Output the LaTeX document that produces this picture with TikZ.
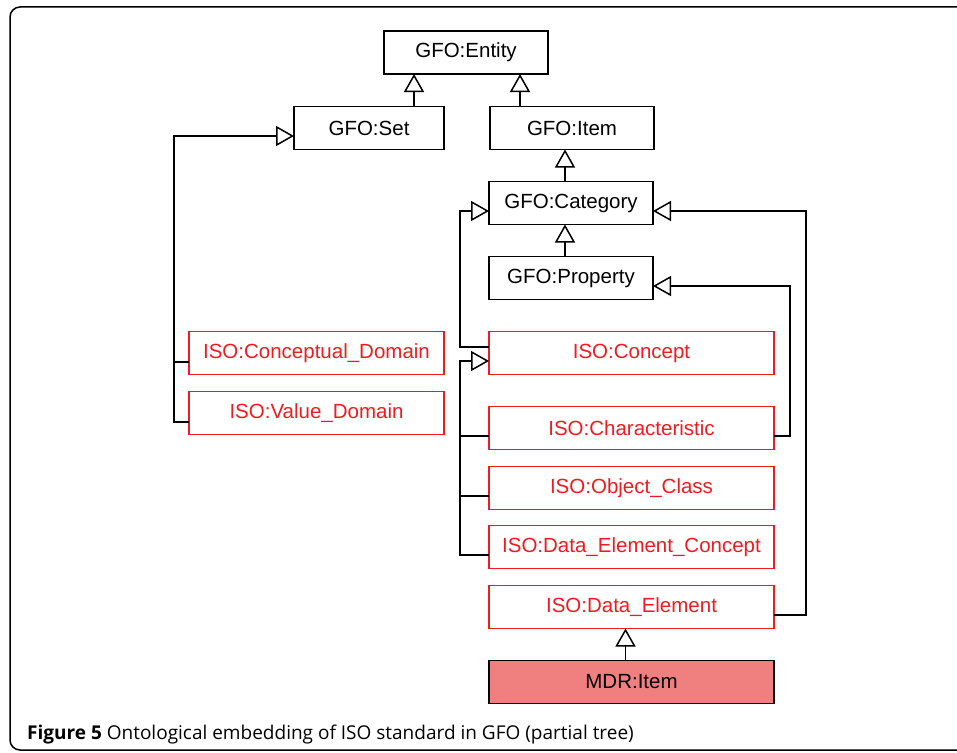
\documentclass[tikz,border=0pt]{standalone}
\usepackage{fontspec}
\setmainfont{Liberation Sans}
\newfontfamily\capfont{Open Sans}
\usepackage{xcolor}
\usetikzlibrary{arrows.meta, positioning}

\definecolor{isored}{RGB}{238,28,32}
\definecolor{mdrfill}{RGB}{240,128,128}

\tikzset{
    gfobox/.style={rectangle, draw, line width=1.5pt, minimum width=164pt, minimum height=43pt, inner sep=0pt, outer sep=0pt, font=\fontsize{20.5}{24}\selectfont},
    isobox/.style={gfobox, draw=isored, text=isored, minimum width=285pt},
    gen/.style={line width=1.5pt, -{Triangle[open, length=18pt, width=20pt]}},
    link/.style={line width=1.5pt}
}

\begin{document}
\begin{tikzpicture}[x=1pt, y=1pt]
    \clip (0,0) rectangle (957,-752);
    \draw[line width=1.5pt, rounded corners=10pt] (10,-7) rectangle (990,-750);

    % GFO part
    \node[gfobox] (entity) at (466,-52.5) {GFO:Entity};
    \node[gfobox, minimum width=150pt] (set) at (369,-128) {GFO:Set};
    \node[gfobox] (item) at (572,-128) {GFO:Item};
    \node[gfobox, below=32pt of item.south west, anchor=north west, xshift=-1pt] (category) {GFO:Category};
    \node[gfobox, below=32pt of category] (property) {GFO:Property};

    % ISO part
    \node[isobox, below=32pt of property.south west, anchor=north west] (concept) {ISO:Concept};
    \node[isobox, below=32pt of concept] (charac) {ISO:Characteristic};
    \node[isobox, below=17pt of charac] (objclass) {ISO:Object\_Class};
    \node[isobox, below=16pt of objclass] (dec) {ISO:Data\_Element\_Concept};
    \node[isobox, below=17pt of dec] (dataelem) {ISO:Data\_Element};
    \node[gfobox, minimum width=285pt, fill=mdrfill, below=32pt of dataelem] (mdr) {MDR:Item};
    \node[isobox, minimum width=255pt, left=45pt of concept] (concdom) {ISO:Conceptual\_Domain};
    \node[isobox, minimum width=255pt, below=17pt of concdom] (valdom) {ISO:Value\_Domain};

    % generalisations
    \draw[gen] ([xshift=45pt]set.north) -- ([xshift=45pt]set.north |- entity.south);
    \draw[gen] ([xshift=-52pt]item.north) -- ([xshift=-52pt]item.north |- entity.south);
    \draw[gen] ([xshift=-6pt]category.north) -- ([xshift=-6pt]category.north |- item.south);
    \draw[gen] ([xshift=-6pt]property.north) -- ([xshift=-6pt]property.north |- category.south);
    \draw[gen] ([xshift=-6pt]mdr.north) -- ([xshift=-6pt]mdr.north |- dataelem.south);

    \draw[gen] ([yshift=-9pt]valdom.west) -- ++(-15pt,0) |- ([yshift=-8pt]set.west);
    \draw[link] ([yshift=-9pt]concdom.west) -- ++(-15pt,0);

    \draw[gen] ([yshift=6pt]concept.west) -- ++(-29pt,0) |- ([yshift=-8pt]category.west);
    \draw[gen] ([yshift=-8pt]dec.west) -- ++(-29pt,0) |- ([yshift=-8pt]concept.west);
    \draw[link] ([yshift=-8pt]objclass.west) -- ++(-29pt,0);
    \draw[link] ([yshift=-8pt]charac.west) -- ++(-29pt,0);

    \draw[gen] ([yshift=-8pt]charac.east) -- ++(16pt,0) |- ([yshift=-8pt]property.east);
    \draw[gen] ([yshift=-8pt]dataelem.east) -- ++(32pt,0) |- ([yshift=-8pt]category.east);

    % caption
    \node[anchor=base west, inner sep=0pt, font=\capfont\fontsize{19}{22}\selectfont] (caption) at (27,-739)
        {\textbf{Figure 5} Ontological embedding of ISO standard in GFO (partial tree)};
\end{tikzpicture}
\end{document}
